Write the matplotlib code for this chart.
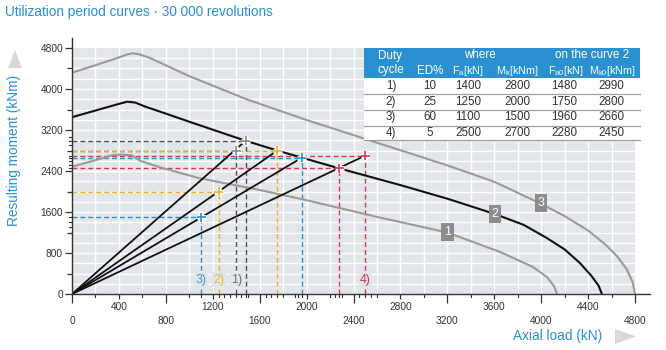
import matplotlib
matplotlib.use("Agg")
import matplotlib.pyplot as plt
from matplotlib import font_manager as fm
from matplotlib.patches import Rectangle, Polygon
import matplotlib.patheffects as pe
from matplotlib.lines import Line2D

# ---------------- data ----------------
curve1_x = [0, 200, 350, 420, 510, 580, 750, 1090, 1600, 2000, 2600, 3200, 3650, 3930, 4050, 4110, 4135]
curve1_y = [2484, 2610, 2712, 2720, 2705, 2600, 2472, 2257, 2030, 1830, 1505, 1200, 820, 527, 330, 150, 0]

curve2_x = [0, 200, 400, 470, 540, 620, 800, 1040, 1480, 1750, 1960, 2280, 2800, 3200, 3600, 3850, 4050, 4200, 4330, 4430, 4490, 4518]
curve2_y = [3450, 3580, 3710, 3752, 3735, 3660, 3520, 3330, 2990, 2800, 2660, 2450, 2125, 1860, 1565, 1350, 1090, 870, 605, 350, 160, 0]

curve3_x = [0, 200, 400, 470, 517, 570, 660, 1000, 1500, 2000, 2400, 2800, 3200, 3600, 4000, 4200, 4400, 4550, 4650, 4730, 4780, 4800]
curve3_y = [4318, 4465, 4615, 4675, 4697, 4680, 4610, 4250, 3790, 3395, 3100, 2805, 2510, 2190, 1760, 1520, 1240, 960, 730, 480, 230, 0]

curve_names = ["1", "2", "3"]
curve_label_x = [3200, 3606, 4000]
curve_label_y = [1210, 1561, 1775]

duty_labels = ["1)", "2)", "3)", "4)"]
duty_ed = [10, 25, 60, 5]
duty_fa = [1400, 1250, 1100, 2500]
duty_mk = [2800, 2000, 1500, 2700]
curve_fa0 = [1480, 1750, 1960, 2280]
curve_mk0 = [2990, 2800, 2660, 2450]

x_major = [0, 800, 1600, 2400, 3200, 4000, 4800]
x_minor = [400, 1200, 2000, 2800, 3600, 4400]
x_fine = [200, 600, 1000, 1100, 1250, 1300, 1350, 1400, 1440, 1480, 1500, 1650, 1700, 1750, 1800,
          1900, 1930, 1960, 2200, 2240, 2280, 2300, 2450, 2500, 2550, 2600,
          3000, 3400, 3800, 4200, 4600]
y_major = [0, 800, 1600, 2400, 3200, 4000, 4800]
y_minor = [400, 1200, 2000, 2800, 3600, 4400]
y_fine = [1200, 1300, 1400, 1500, 2000, 2450, 2520, 2600, 2660, 2700, 2800, 2900, 2990, 3070]

title_text = "Utilization period curves · 30 000 revolutions"
ylabel_text = "Resulting moment (kNm)"
xlabel_text = "Axial load (kN)"

table_head1 = ["Duty", "where", "on the curve 2"]
table_head2 = ["cycle", "ED%", r"F$_\mathregular{a}$[kN]", r"M$_\mathregular{k}$[kNm]",
               r"F$_\mathregular{a0}$[kN]", r"M$_\mathregular{k0}$[kNm]"]

# ---------------- style ----------------
names = {f.name for f in fm.fontManager.ttflist}
NARROW = "Liberation Sans Narrow" if "Liberation Sans Narrow" in names else "Liberation Sans"
SC = 1.0 if NARROW == "Liberation Sans Narrow" else 0.85
plt.rcParams["font.family"] = [NARROW, "DejaVu Sans"]

BLUE = "#2b8fd2"
GREYBG = "#e3e6e9"
duty_colors = ["#4d4d4d", "#f2b01e", "#2a93d4", "#e0305a"]
label_colors = ["#707070", "#f2b530", "#3d97d6", "#e0305a"]
marker_colors = ["#8a8a8a", "#f2b01e", "#2a93d4", "#e0305a"]
curve_colors = ["#9a9a9a", "#111111", "#9a9a9a"]

W, H = 666, 350
PXX = 563 / 4800.0
PXY = 246 / 4800.0
XMAX, YMAX = 4930, 5000

fig = plt.figure(figsize=(W / 100, H / 100), dpi=100)
fig.patch.set_facecolor("white")
ax = fig.add_axes([72 / W, 56 / H, XMAX * PXX / W, YMAX * PXY / H])
ax.set_xlim(0, XMAX)
ax.set_ylim(0, YMAX)
ax.set_facecolor("none")

# grey plot area and white grid
ax.add_patch(Rectangle((0, 0), 4800, 4800, fc=GREYBG, ec="none", zorder=0))
for v in range(200, 4800, 200):
    ax.plot([v, v], [0, 4800], color="white", lw=1.0, zorder=1)
    ax.plot([0, 4800], [v, v], color="white", lw=1.0, zorder=1)

for s in ["top", "right"]:
    ax.spines[s].set_visible(False)
for s in ["left", "bottom"]:
    ax.spines[s].set_color("#333333")
    ax.spines[s].set_linewidth(1.0)
    ax.spines[s].set_zorder(6)

# ticks
ax.set_xticks(x_major)
ax.set_xticklabels([str(v) for v in x_major])
ax.set_xticks(x_minor, minor=True)
ax.set_xticklabels([str(v) for v in x_minor], minor=True)
ax.set_yticks(y_major)
ax.set_yticklabels([str(v) for v in y_major])
ax.set_yticks(y_minor, minor=True)
ax.set_yticklabels([], minor=True)
ax.tick_params(axis="x", which="major", length=6.5, width=0.9, pad=9, labelsize=8 * SC + 0.5,
               colors="#333333")
ax.tick_params(axis="x", which="minor", length=3.5, width=0.9, pad=2, labelsize=8 * SC + 0.5,
               colors="#333333")
ax.tick_params(axis="y", which="major", length=5, width=0.9, pad=1.5, labelsize=8 * SC + 0.5,
               colors="#333333")
ax.tick_params(axis="y", which="minor", length=3.5, width=0.9, colors="#333333")

for v in x_fine:
    ax.add_line(Line2D([v, v], [0, -2.5 / PXY], color="#333333", lw=0.8, clip_on=False, zorder=6))
for v in y_fine:
    ax.add_line(Line2D([0, -3 / PXX], [v, v], color="#333333", lw=0.8, clip_on=False, zorder=6))

# dashed guide lines
dash = (0, (3.5, 2.2))
for i in range(4):
    c = duty_colors[i]
    for fx, my in [(duty_fa[i], duty_mk[i]), (curve_fa0[i], curve_mk0[i])]:
        ax.plot([0, fx], [my, my], color=c, lw=1.0, ls=dash, zorder=2)
        ax.plot([fx, fx], [0, my], color=c, lw=1.0, ls=dash, zorder=2)

# curves
for cx, cy, cc in [(curve1_x, curve1_y, curve_colors[0]), (curve2_x, curve2_y, curve_colors[1]),
                   (curve3_x, curve3_y, curve_colors[2])]:
    ax.plot(cx, cy, color=cc, lw=1.5, zorder=3, solid_joinstyle="round")

# radial lines from origin
for i in range(4):
    fx = max(duty_fa[i], curve_fa0[i])
    my = duty_mk[i] if duty_fa[i] > curve_fa0[i] else curve_mk0[i]
    ax.plot([0, fx], [0, my], color="#111111", lw=1.3, zorder=3)

# markers with white halo
for i in range(4):
    for fx, my in [(duty_fa[i], duty_mk[i]), (curve_fa0[i], curve_mk0[i])]:
        ax.plot([fx], [my], marker="+", ms=6.5, mew=1.2, color=marker_colors[i], zorder=5,
                path_effects=[pe.Stroke(linewidth=3.5, foreground="white"), pe.Normal()])

# duty labels at bottom
for i in range(4):
    ax.text(duty_fa[i], 275, duty_labels[i], color=label_colors[i], ha="center", va="center",
            fontsize=10.5 * SC, zorder=5,
            bbox=dict(boxstyle="square,pad=0.12", fc=GREYBG, ec="none"))

# curve number boxes
for i in range(3):
    ax.text(curve_label_x[i], curve_label_y[i], curve_names[i], color="white", ha="center",
            va="center", fontsize=10.5 * SC, zorder=6,
            bbox=dict(boxstyle="square,pad=0.22", fc="#8c8c8c", ec="none"))

# ---------------- texts outside axes ----------------
def F(px, py):
    return px / W, 1 - py / H

fig.text(*F(5, 12), title_text, color=BLUE, fontsize=11.5 * SC, ha="left", va="center")
fig.text(*F(14, 150), ylabel_text, color=BLUE, fontsize=11.5 * SC, rotation=90,
         ha="center", va="center")
fig.text(*F(558, 336), xlabel_text, color=BLUE, fontsize=11.5 * SC, ha="center", va="center")

fig.patches.append(Polygon([F(8, 68), F(22, 68), F(15, 50)], closed=True, fc="#d6d9dc", ec="none",
                           transform=fig.transFigure, figure=fig))
fig.patches.append(Polygon([F(615, 329), F(615, 344), F(636, 336.5)], closed=True, fc="#d6d9dc",
                           ec="none", transform=fig.transFigure, figure=fig))

# ---------------- table ----------------
TL, TR = 364, 640
fig.patches.append(Rectangle(F(TL, 140), (TR - TL) / W, (140 - 48) / H, fc="white", ec="none",
                             transform=fig.transFigure, figure=fig, zorder=10))
fig.patches.append(Rectangle(F(TL, 78), (TR - TL) / W, 30 / H, fc="#2a90d2", ec="none",
                             transform=fig.transFigure, figure=fig, zorder=10))
for yy in [94, 110, 125.5, 140]:
    fig.lines.append(Line2D([TL / W, TR / W], [1 - yy / H, 1 - yy / H], color="#a0a0a0", lw=0.9,
                            transform=fig.transFigure, figure=fig, zorder=11))

col_x = [391, 430, 468, 517, 564, 611]
hfs = 9.8 * SC
h2fs = 9.2 * SC
fig.text(*F(390, 56), table_head1[0], color="white", fontsize=hfs, ha="center", va="center", zorder=12)
fig.text(*F(480, 55), table_head1[1], color="white", fontsize=hfs, ha="center", va="center", zorder=12)
fig.text(*F(592, 55), table_head1[2], color="white", fontsize=hfs, ha="center", va="center", zorder=12)
for j, t in enumerate(table_head2):
    fig.text(*F(col_x[j] + (2 if j >= 4 else 0), 70.5), t, color="white",
             fontsize=(hfs if j < 2 else h2fs), ha="center", va="center", zorder=12)

row_y = [86, 102, 117.5, 133]
for i in range(4):
    vals = [duty_labels[i], str(duty_ed[i]), str(duty_fa[i]), str(duty_mk[i]),
            str(curve_fa0[i]), str(curve_mk0[i])]
    for j, t in enumerate(vals):
        fig.text(*F(col_x[j], row_y[i]), t, color="#333333", fontsize=hfs, ha="center",
                 va="center", zorder=12)

fig.savefig("out.png", dpi=100)
